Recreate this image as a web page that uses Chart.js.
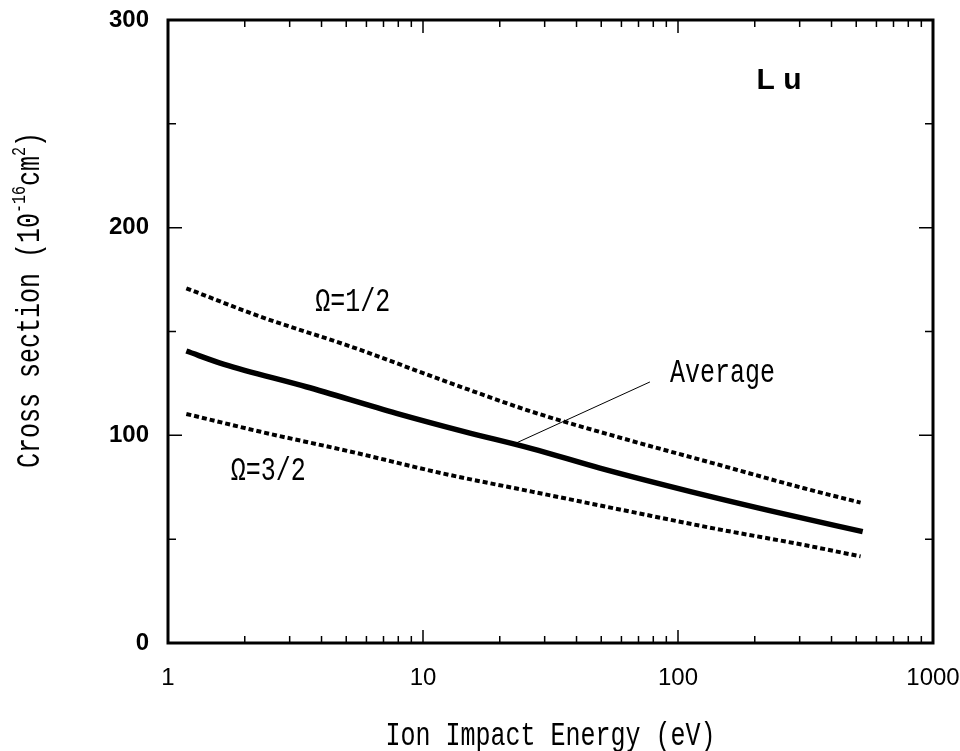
<!DOCTYPE html>
<html>
<head>
<meta charset="utf-8">
<script src="https://cdn.jsdelivr.net/npm/chart.js@4.4.1/dist/chart.umd.min.js"></script>
<style>
  html, body { margin: 0; padding: 0; background: #fff; }
  #wrap { width: 960px; height: 751px; }
</style>
</head>
<body>
<div id="wrap"><canvas id="cs-chart" width="960" height="751"></canvas></div>
<script>
// values (energy in eV, cross section in 1e-16 cm^2)
const energyDotted = [1.18, 2.31, 5.22, 11.9, 26.7, 60.8, 138, 312, 520];
const omegaHalf = [170.8, 157.1, 142.7, 126.6, 111.4, 98.5, 86.5, 74.5, 67.6];
const omegaThreeHalf = [110.3, 101.7, 92.1, 81.7, 72.9, 64.0, 55.2, 47.2, 41.7];

const energyAvg = [1.18, 1.66, 3.48, 7.87, 14.5, 26.7, 49.4, 112, 255, 530];
const average = [140.6, 134.2, 123.4, 110.6, 101.8, 93.6, 84.2, 72.9, 62.4, 53.6];

const xTickLabels = [1, 10, 100, 1000];
const yTickLabels = [0, 100, 200, 300];

// text annotations: [label, energy, value]
const notes = [
    ['\u03A9=1/2', 5.3, 164],
    ['\u03A9=3/2', 2.47, 82.8],
    ['Average', 93, 130]
];
const leader = [[23.2, 96.3], [77.6, 125.7]];
const elementLabel = ['L u', 249, 270.6];

const gothic = '"Liberation Mono", "DejaVu Sans Mono", monospace';

function toPoints(xs, ys) {
    return xs.map((x, i) => ({ x: x, y: ys[i] }));
}

// draw text stretched vertically to look like the narrow gothic face
function tallText(ctx, text, x, y, size, align) {
    ctx.save();
    ctx.font = `${size}px ${gothic}`;
    ctx.textAlign = align || 'center';
    ctx.textBaseline = 'middle';
    ctx.translate(x, y);
    ctx.scale(1, 1.3);
    ctx.fillText(text, 0, 0);
    ctx.restore();
}

const decor = {
    id: 'decor',
    afterDraw(chart) {
        const ctx = chart.ctx;
        const a = chart.chartArea;
        const xs = chart.scales.x;
        const ys = chart.scales.y;
        ctx.save();
        ctx.strokeStyle = '#000';
        ctx.fillStyle = '#000';

        // inward ticks on all four sides
        ctx.lineWidth = 1.5;
        ctx.beginPath();
        for (let v = 0; v <= 300; v += 50) {
            const py = ys.getPixelForValue(v);
            const len = v % 100 === 0 ? 14 : 8;
            ctx.moveTo(a.left, py); ctx.lineTo(a.left + len, py);
            ctx.moveTo(a.right, py); ctx.lineTo(a.right - len, py);
        }
        for (let d = 1; d < 1000; d *= 10) {
            for (let m = 1; m < 10; m++) {
                const px = xs.getPixelForValue(d * m);
                const len = m === 1 ? 13 : 7;
                ctx.moveTo(px, a.bottom); ctx.lineTo(px, a.bottom - len);
                ctx.moveTo(px, a.top); ctx.lineTo(px, a.top + len);
            }
        }
        ctx.stroke();

        // frame
        ctx.lineWidth = 3;
        ctx.strokeRect(a.left, a.top, a.right - a.left, a.bottom - a.top);

        // leader line to the average curve
        ctx.lineWidth = 1;
        ctx.beginPath();
        ctx.moveTo(xs.getPixelForValue(leader[0][0]), ys.getPixelForValue(leader[0][1]));
        ctx.lineTo(xs.getPixelForValue(leader[1][0]), ys.getPixelForValue(leader[1][1]));
        ctx.stroke();

        notes.forEach(([t, e, v]) => {
            const align = t === 'Average' ? 'left' : 'center';
            tallText(ctx, t, xs.getPixelForValue(e), ys.getPixelForValue(v), 25, align);
        });

        ctx.font = 'bold 30px "Liberation Sans", Arial, sans-serif';
        ctx.textAlign = 'center';
        ctx.textBaseline = 'middle';
        ctx.fillText(elementLabel[0], xs.getPixelForValue(elementLabel[1]), ys.getPixelForValue(elementLabel[2]));

        // x title
        tallText(ctx, 'Ion Impact Energy (eV)', (a.left + a.right) / 2, 736, 25);

        // y title with superscripts, rotated
        ctx.save();
        ctx.translate(30, 300);
        ctx.rotate(-Math.PI / 2);
        const parts = [
            ['Cross section (10', 25, 0],
            ['-16', 15, -10],
            ['cm', 25, 0],
            ['2', 15, -10],
            [')', 25, 0]
        ];
        let total = 0;
        parts.forEach(p => { ctx.font = `${p[1]}px ${gothic}`; total += ctx.measureText(p[0]).width; });
        let cx = -total / 2;
        ctx.textBaseline = 'middle';
        ctx.textAlign = 'left';
        parts.forEach(p => {
            ctx.font = `${p[1]}px ${gothic}`;
            ctx.save();
            ctx.translate(cx, p[2]);
            ctx.scale(1, 1.3);
            ctx.fillText(p[0], 0, 0);
            ctx.restore();
            cx += ctx.measureText(p[0]).width;
        });
        ctx.restore();

        ctx.restore();
    }
};

new Chart(document.getElementById('cs-chart').getContext('2d'), {
    type: 'line',
    data: {
        datasets: [{
            label: '\u03A9=1/2',
            data: toPoints(energyDotted, omegaHalf),
            borderColor: '#000',
            borderWidth: 4,
            borderDash: [5, 3],
            pointRadius: 0,
            cubicInterpolationMode: 'monotone'
        }, {
            label: 'Average',
            data: toPoints(energyAvg, average),
            borderColor: '#000',
            borderWidth: 5.5,
            pointRadius: 0,
            cubicInterpolationMode: 'monotone'
        }, {
            label: '\u03A9=3/2',
            data: toPoints(energyDotted, omegaThreeHalf),
            borderColor: '#000',
            borderWidth: 4,
            borderDash: [5, 3],
            pointRadius: 0,
            cubicInterpolationMode: 'monotone'
        }]
    },
    options: {
        responsive: false,
        animation: false,
        layout: { padding: { top: 20, right: 27, left: 0, bottom: 0 } },
        plugins: { legend: { display: false }, tooltip: { enabled: false } },
        scales: {
            x: {
                type: 'logarithmic',
                min: 1,
                max: 1000,
                grid: { display: false, drawTicks: false },
                border: { display: false },
                afterFit: s => { s.height = 108; s.paddingLeft = 0; s.paddingRight = 0; },
                ticks: {
                    autoSkip: false,
                    maxRotation: 0,
                    padding: 21,
                    color: '#000',
                    font: { family: '"Liberation Sans", Arial, sans-serif', size: 24 },
                    callback: v => xTickLabels.includes(v) ? String(v) : ''
                }
            },
            y: {
                min: 0,
                max: 300,
                grid: { display: false, drawTicks: false },
                border: { display: false },
                afterFit: s => { s.width = 168; s.paddingTop = 0; s.paddingBottom = 0; },
                afterBuildTicks: s => { s.ticks = yTickLabels.map(v => ({ value: v })); },
                ticks: {
                    padding: 19,
                    color: '#000',
                    font: { family: '"Liberation Sans", Arial, sans-serif', size: 24, weight: 'bold' }
                }
            }
        }
    },
    plugins: [decor]
});
</script>
</body>
</html>
